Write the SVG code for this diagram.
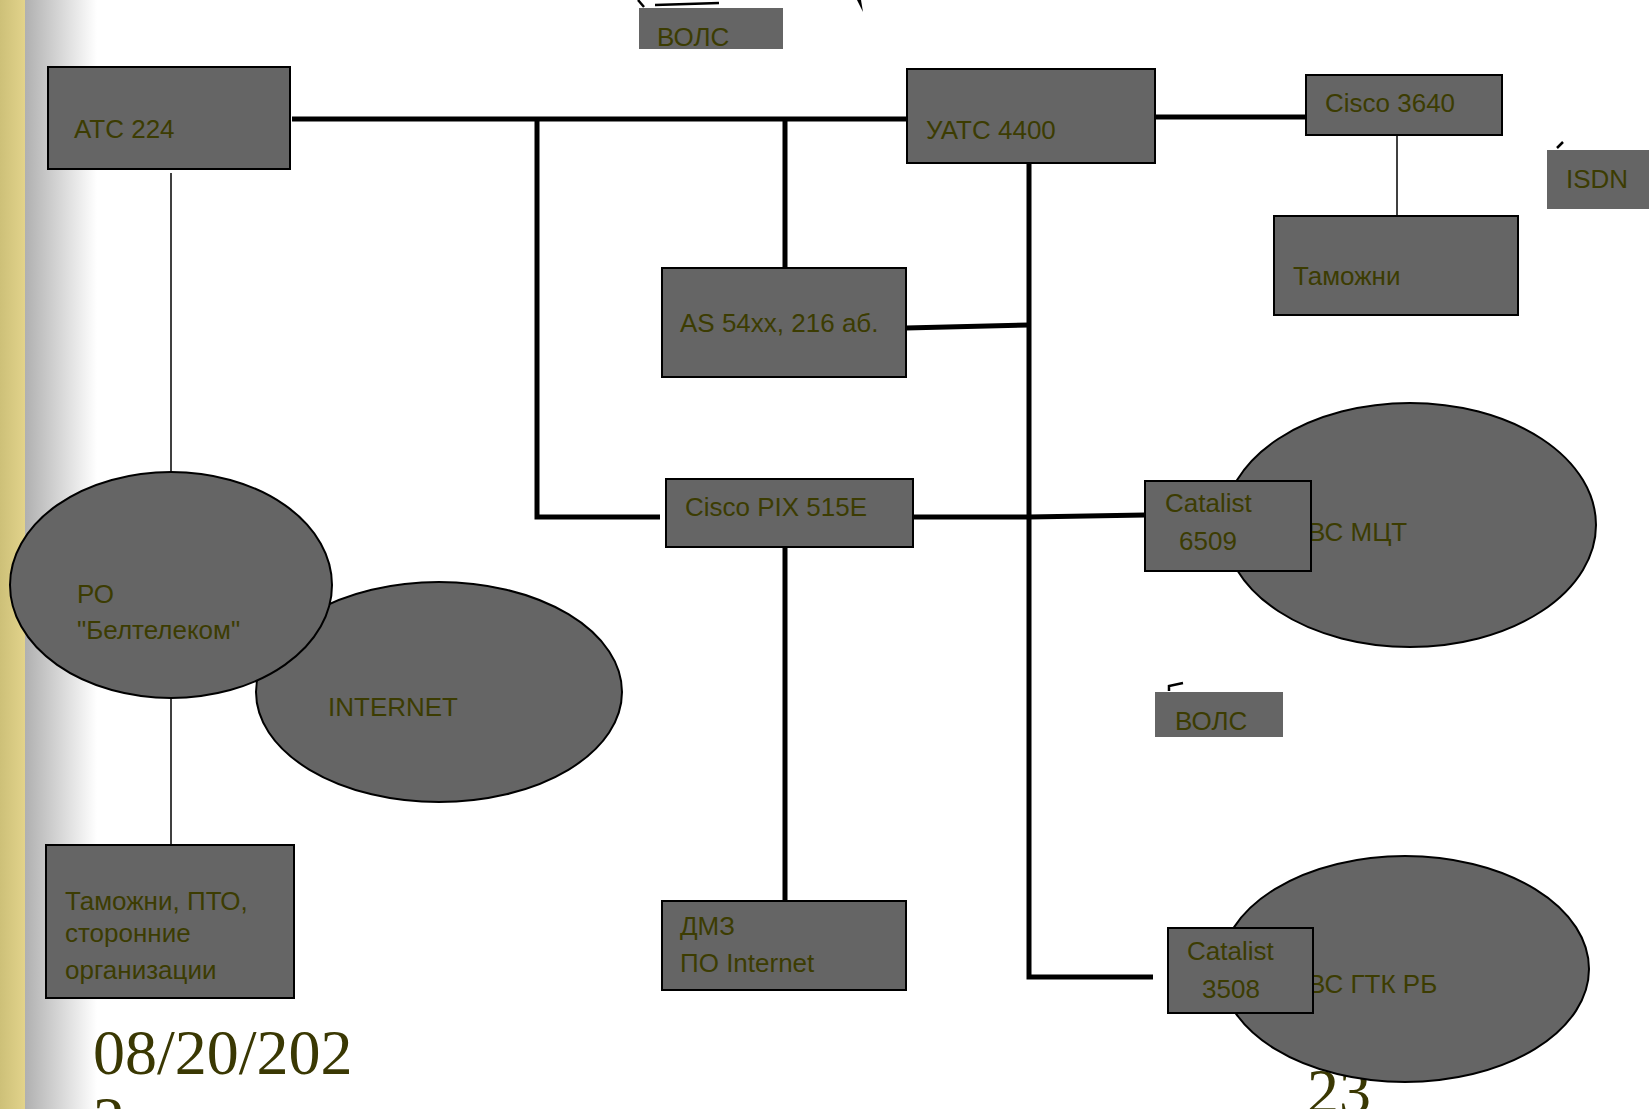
<svg xmlns="http://www.w3.org/2000/svg" width="1649" height="1109" viewBox="0 0 1649 1109">
<defs>
<linearGradient id="gold" x1="0" y1="0" x2="1" y2="0">
<stop offset="0" stop-color="#cdc078"/>
<stop offset="1" stop-color="#e2d38b"/>
</linearGradient>
<linearGradient id="fade" x1="0" y1="0" x2="1" y2="0">
<stop offset="0" stop-color="#b0b0b0"/>
<stop offset="1" stop-color="#ffffff"/>
</linearGradient>
<style>
.box{fill:#656565;stroke:#000;stroke-width:2}
.lbl{fill:#656565;stroke:none}
.ell{fill:#656565;stroke:#000;stroke-width:2}
.t{font-family:"Liberation Sans",Arial,sans-serif;font-size:26px;fill:#3c3c02}
.big{font-family:"Liberation Serif","Times New Roman",serif;font-size:64px;fill:#3a3803}
.thick{stroke:#000;stroke-width:5;fill:none}
.thin{stroke:#000;stroke-width:1.5;fill:none}
.frag{stroke:#000;stroke-width:2.5;fill:none}
</style>
</defs>
<rect x="0" y="0" width="1649" height="1109" fill="#fff"/>
<rect x="0" y="0" width="25" height="1109" fill="url(#gold)"/>
<rect x="25" y="0" width="72" height="1109" fill="url(#fade)"/>

<g id="fragments">
<path class="frag" d="M638,0 L644,7"/>
<path class="frag" d="M655,5 L719,3"/>
<path d="M857,0 L861,0 L863,12 Z" fill="#000"/>
<path class="frag" d="M1557,148 L1563,142" stroke-width="2"/>
<path class="frag" d="M1169,691 L1169,686 L1183,683" stroke-width="2"/>
</g>

<g id="connectors">
<path class="thick" d="M292,119 L908,119"/>
<path class="thick" d="M537,121 L537,517 L660,517"/>
<path class="thick" d="M785,121 L785,268"/>
<path class="thick" d="M1155,117 L1305,117"/>
<path class="thick" d="M1029,163 L1029,977 L1153,977"/>
<path class="thick" d="M906,328 L1029,325"/>
<path class="thick" d="M907,517 L1029,517 L1145,515"/>
<path class="thick" d="M785,547 L785,905"/>
<path class="thin" d="M171,173 L171,472"/>
<path class="thin" d="M171,698 L171,846"/>
<path class="thin" d="M1397,135 L1397,216"/>
</g>

<g id="volc-top">
<rect class="lbl" x="639" y="8" width="144" height="41"/>
<text class="t" x="657" y="46">ВОЛС</text>
</g>

<g id="atc224">
<rect class="box" x="48" y="67" width="242" height="102"/>
<text class="t" x="74" y="138">АТС 224</text>
</g>

<g id="uatc4400">
<rect class="box" x="907" y="69" width="248" height="94"/>
<text class="t" x="926" y="139">УАТС 4400</text>
</g>

<g id="cisco3640">
<rect class="box" x="1306" y="75" width="196" height="60"/>
<text class="t" x="1325" y="112">Cisco 3640</text>
</g>

<g id="isdn">
<rect class="lbl" x="1547" y="150" width="102" height="59"/>
<text class="t" x="1566" y="188">ISDN</text>
</g>

<g id="tamozhni">
<rect class="box" x="1274" y="216" width="244" height="99"/>
<text class="t" x="1293" y="285">Таможни</text>
</g>

<g id="as54xx">
<rect class="box" x="662" y="268" width="244" height="109"/>
<text class="t" x="680" y="332">AS 54xx, 216 аб.</text>
</g>

<g id="pix515e">
<rect class="box" x="666" y="479" width="247" height="68"/>
<text class="t" x="685" y="516">Cisco PIX 515E</text>
</g>

<g id="internet">
<ellipse class="ell" cx="439" cy="692" rx="183" ry="110"/>
<text class="t" x="328" y="716">INTERNET</text>
</g>

<g id="ro-beltelecom">
<ellipse class="ell" cx="171" cy="585" rx="161" ry="113"/>
<text class="t" x="77" y="603">РО</text>
<text class="t" x="77" y="639">"Белтелеком"</text>
</g>

<g id="vs-mct">
<ellipse class="ell" cx="1410" cy="525" rx="186" ry="122"/>
<text class="t" x="1308" y="541">ВС МЦТ</text>
</g>

<g id="catalist6509">
<rect class="box" x="1145" y="481" width="166" height="90"/>
<text class="t" x="1165" y="512">Catalist</text>
<text class="t" x="1179" y="550">6509</text>
</g>

<g id="volc-mid">
<rect class="lbl" x="1155" y="692" width="128" height="45"/>
<text class="t" x="1175" y="730">ВОЛС</text>
</g>

<g id="page-number">
<text class="big" x="1307" y="1113">23</text>
</g>

<g id="vs-gtk-rb">
<ellipse class="ell" cx="1405" cy="969" rx="184" ry="113"/>
<text class="t" x="1308" y="993">ВС ГТК РБ</text>
</g>

<g id="catalist3508">
<rect class="box" x="1168" y="928" width="145" height="85"/>
<text class="t" x="1187" y="960">Catalist</text>
<text class="t" x="1202" y="998">3508</text>
</g>

<g id="dmz">
<rect class="box" x="662" y="901" width="244" height="89"/>
<text class="t" x="680" y="935">ДМЗ</text>
<text class="t" x="680" y="972">ПО Internet</text>
</g>

<g id="tamozhni-pto">
<rect class="box" x="46" y="845" width="248" height="153"/>
<text class="t" x="65" y="910">Таможни, ПТО,</text>
<text class="t" x="65" y="942">сторонние</text>
<text class="t" x="65" y="979">организации</text>
</g>

<g id="date">
<text class="big" x="93" y="1074">08/20/202</text>
<text class="big" x="93" y="1141">2</text>
</g>
</svg>
